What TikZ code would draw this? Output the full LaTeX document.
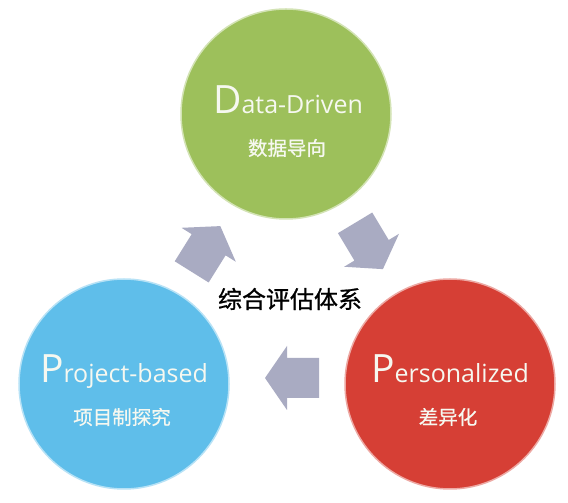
\documentclass[tikz,border=0pt]{standalone}
\usepackage{fontspec}
\setmainfont{Open Sans}
\newfontfamily\cjk[FakeBold=0.8]{Noto Sans CJK SC}
\definecolor{cgreen}{HTML}{9DC05B}
\definecolor{cblue}{HTML}{5FBEEA}
\definecolor{cred}{HTML}{D63F35}
\definecolor{carrow}{HTML}{A9ABC2}
\definecolor{ctext}{HTML}{F6F8F0}
\tikzset{
  bubble/.style={circle, inner sep=0pt, minimum size=210pt, line width=1.5pt},
  bigtitle/.style={anchor=base, inner sep=0pt, text=ctext},
  subtitle/.style={inner sep=0pt, text=ctext, font=\cjk\fontsize{19.5}{20}\selectfont},
  blockarrow/.style={fill=carrow, draw=none},
}
\newcommand{\bigL}[2]{{\fontsize{39}{39}\selectfont #1}{\fontsize{25}{25}\selectfont #2}}
\begin{document}
\begin{tikzpicture}[x=1pt,y=1pt]
\useasboundingbox[fill=white] (0,0) rectangle (568,503);
% circles
\node[bubble, fill=cgreen, draw=cgreen!45!white] (green) at (286,389) {};
\node[bubble, fill=cblue, draw=cblue!45!white] (blue) at (124,119) {};
\node[bubble, fill=cred, draw=cred!45!white] (red) at (450,119) {};
% texts
\node[bigtitle] (dd) at ([xshift=2pt]green.center) {\bigL{D}{ata-Driven}};
\node[subtitle] (ddc) at ([xshift=1pt,yshift=-34pt]green.center) {数据导向};
\node[bigtitle] (pb) at ([yshift=1pt]blue.center) {\bigL{P}{roject-based}};
\node[subtitle] (pbc) at ([xshift=-2pt,yshift=-33pt]blue.center) {项目制探究};
\node[bigtitle] (ps) at ([yshift=1pt]red.center) {\bigL{P}{ersonalized}};
\node[subtitle] (psc) at ([xshift=-2pt,yshift=-33pt]red.center) {差异化};
\node[inner sep=0pt, font=\cjk\fontsize{24}{24}\selectfont] (title) at (290,204) {综合评估体系};
% block arrows
\foreach \cx/\cy/\ang in {292/125/180, 206/254/58, 369/257/-59}{
  \begin{scope}[shift={(\cx,\cy)}, rotate=\ang]
    \fill[blockarrow] (27,0) -- (5,32) -- (5,20) -- (-27,20) -- (-27,-20) -- (5,-20) -- (5,-32) -- cycle;
  \end{scope}
}
\end{tikzpicture}
\end{document}
